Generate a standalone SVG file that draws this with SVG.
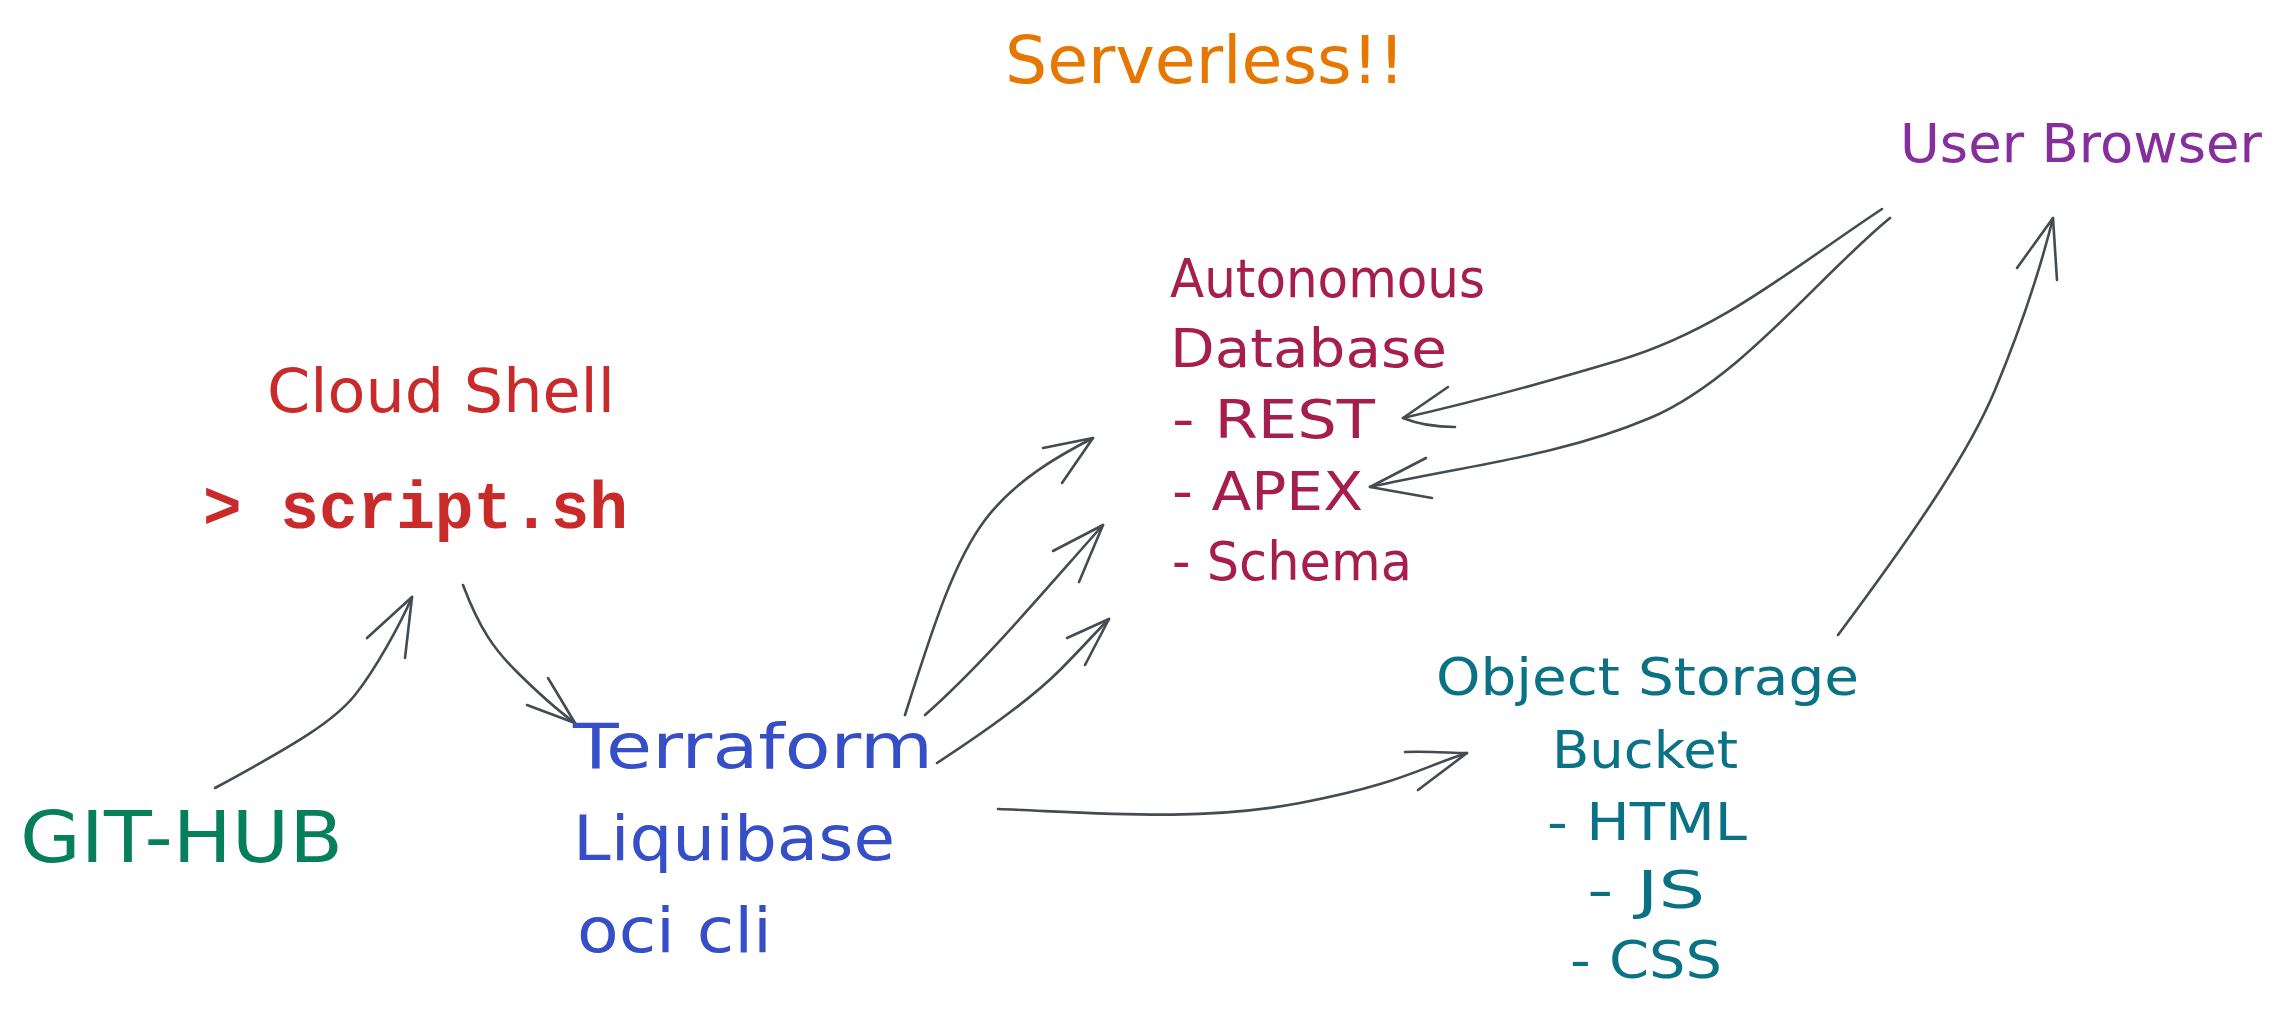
<svg xmlns="http://www.w3.org/2000/svg" width="2291" height="1022" viewBox="0 0 2291 1022">
<style>
text{font-family:"DejaVu Sans","Liberation Sans",sans-serif;}
.mono{font-family:"Liberation Mono","DejaVu Sans Mono",monospace;font-weight:bold;}
.c{fill:none;stroke:#454b52;stroke-width:2.6;stroke-linecap:round;stroke-linejoin:round;}
.orange{fill:#e67700}
.red{fill:#c92a2a}
.green{fill:#087f5b}
.blue{fill:#364fc7}
.crimson{fill:#a61e4d}
.teal{fill:#0b7285}
.purple{fill:#862e9c}
</style>
<rect width="2291" height="1022" fill="#ffffff"/>

<g id="connectors">
  <g id="github-to-script">
    <path class="c" d="M215,788 C300,742 335,720 355,695 S400,625 412,597"/>
    <path class="c" d="M367,638 L412,597 L405,658"/>
  </g>
  <g id="script-to-terraform">
    <path class="c" d="M463,585 C480,630 495,650 515,670 S560,712 575,723"/>
    <path class="c" d="M527,705 L575,723 L548,678"/>
  </g>
  <g id="terraform-to-rest">
    <path class="c" d="M905,715 C935,620 955,560 985,520 S1060,455 1093,438"/>
    <path class="c" d="M1043,448 L1093,438 L1062,483"/>
  </g>
  <g id="terraform-to-apex">
    <path class="c" d="M925,715 C985,662 1045,590 1103,525"/>
    <path class="c" d="M1053,551 L1103,525 L1079,582"/>
  </g>
  <g id="terraform-to-schema">
    <path class="c" d="M937,763 C1000,722 1040,690 1060,670 S1095,633 1109,619"/>
    <path class="c" d="M1067,638 L1109,619 L1085,665"/>
  </g>
  <g id="terraform-to-objstore">
    <path class="c" d="M998,809 C1100,813 1200,822 1300,803 S1420,768 1467,753"/>
    <path class="c" d="M1405,752 C1430,751 1450,753 1467,753 L1418,790"/>
  </g>
  <g id="browser-to-rest">
    <path class="c" d="M1882,209 C1790,270 1720,330 1620,360 S1460,405 1403,418"/>
    <path class="c" d="M1448,387 L1403,418 C1420,425 1440,427 1455,427"/>
  </g>
  <g id="browser-to-apex">
    <path class="c" d="M1890,218 C1820,275 1740,380 1650,418 S1470,465 1370,487"/>
    <path class="c" d="M1426,458 L1370,487 L1432,498"/>
  </g>
  <g id="objstore-to-browser">
    <path class="c" d="M1838,635 C1920,525 1970,450 1995,390 S2040,270 2053,218"/>
    <path class="c" d="M2017,268 L2053,218 L2057,280"/>
  </g>
</g>

<g id="title">
  <text class="orange" x="1005" y="83" font-size="66" textLength="400" lengthAdjust="spacingAndGlyphs">Serverless!!</text>
</g>

<g id="cloud-shell">
  <text class="red" x="267" y="412" font-size="60" textLength="348" lengthAdjust="spacingAndGlyphs">Cloud Shell</text>
  <text class="red mono" x="203" y="528" font-size="66" textLength="425" lengthAdjust="spacingAndGlyphs">&gt; script.sh</text>
</g>

<g id="github">
  <text class="green" x="20" y="862" font-size="72" textLength="323" lengthAdjust="spacingAndGlyphs">GIT-HUB</text>
</g>

<g id="tools">
  <text class="blue" x="573" y="768" font-size="62" textLength="360" lengthAdjust="spacingAndGlyphs">Terraform</text>
  <text class="blue" x="573" y="860" font-size="62" textLength="322" lengthAdjust="spacingAndGlyphs">Liquibase</text>
  <text class="blue" x="577" y="952" font-size="62" textLength="195" lengthAdjust="spacingAndGlyphs">oci cli</text>
</g>

<g id="autonomous-database">
  <text class="crimson" x="1170" y="297" font-size="54" textLength="315" lengthAdjust="spacingAndGlyphs">Autonomous</text>
  <text class="crimson" x="1170" y="367" font-size="54" textLength="277" lengthAdjust="spacingAndGlyphs">Database</text>
  <text class="crimson" x="1172" y="438" font-size="54" textLength="203" lengthAdjust="spacingAndGlyphs">- REST</text>
  <text class="crimson" x="1172" y="510" font-size="54" textLength="191" lengthAdjust="spacingAndGlyphs">- APEX</text>
  <text class="crimson" x="1172" y="580" font-size="54" textLength="240" lengthAdjust="spacingAndGlyphs">- Schema</text>
</g>

<g id="object-storage">
  <text class="teal" x="1436" y="695" font-size="52" textLength="423" lengthAdjust="spacingAndGlyphs">Object Storage</text>
  <text class="teal" x="1552" y="768" font-size="52" textLength="186" lengthAdjust="spacingAndGlyphs">Bucket</text>
  <text class="teal" x="1547" y="840" font-size="52" textLength="200" lengthAdjust="spacingAndGlyphs">- HTML</text>
  <text class="teal" x="1587" y="908" font-size="52" textLength="118" lengthAdjust="spacingAndGlyphs">- JS</text>
  <text class="teal" x="1570" y="978" font-size="52" textLength="152" lengthAdjust="spacingAndGlyphs">- CSS</text>
</g>

<g id="user-browser">
  <text class="purple" x="1900" y="162" font-size="54" textLength="362" lengthAdjust="spacingAndGlyphs">User Browser</text>
</g>
</svg>
